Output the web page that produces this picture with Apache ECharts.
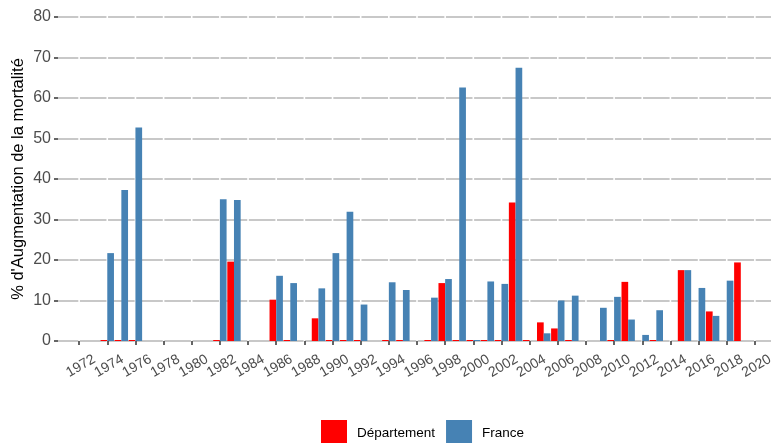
<!DOCTYPE html>
<html>
<head>
<meta charset="utf-8">
<script src="https://cdn.jsdelivr.net/npm/echarts@6/dist/echarts.min.js"></script>
<style>
  html, body { margin: 0; padding: 0; background: #fff; }
  #chart { width: 771px; height: 443px; }
</style>
</head>
<body>
<div id="chart"></div>
<script>
// years 1971..2021 (first and last are padding so the panel runs past 1972 / 2020)
var annees = ['1971', '1972', '1973', '1974', '1975', '1976', '1977', '1978', '1979', '1980',
    '1981', '1982', '1983', '1984', '1985', '1986', '1987', '1988', '1989', '1990',
    '1991', '1992', '1993', '1994', '1995', '1996', '1997', '1998', '1999', '2000',
    '2001', '2002', '2003', '2004', '2005', '2006', '2007', '2008', '2009', '2010',
    '2011', '2012', '2013', '2014', '2015', '2016', '2017', '2018', '2019', '2020', '2021'];

var departement = [null, null, null, 0.25, 0.25, 0.25, null, null, null, null,
    null, 0.25, 19.6, null, null, 10.2, 0.25, null, 5.6, 0.25,
    0.25, 0.25, null, 0.25, 0.25, null, 0.25, 14.3, 0.25, 0.25,
    0.25, 0.25, 34.2, 0.25, 4.6, 3.1, 0.25, null, null, 0.25,
    14.6, null, 0.25, null, 17.5, null, 7.3, null, 19.4, null, null];

var france = [null, null, null, 21.7, 37.3, 52.7, null, null, null, null,
    null, 35.0, 34.8, null, null, 16.1, 14.3, null, 13.0, 21.7,
    31.9, 9.0, null, 14.5, 12.6, null, 10.7, 15.3, 62.6, 0.25,
    14.7, 14.1, 67.5, null, 1.9, 10.0, 11.2, null, 8.2, 10.9,
    5.3, 1.5, 7.6, null, 17.5, 13.1, 6.2, 14.9, null, null, null];

var yTicks = { min: 0, max: 80, interval: 10 };

// only even years get a label / tick
function anneePaire(index, value) {
    return Number(value) % 2 === 0;
}

var chart = echarts.init(document.getElementById('chart'));

// horizontal grid lines are broken at every labelled year (ggplot white x-grid look)
var pas = 2 * (771 + 5 - 58) / annees.length;

var option = {
    animation: false,
    textStyle: { fontFamily: 'Liberation Sans, Arial, sans-serif' },
    grid: {
        left: 58,
        right: -5,
        top: 17,
        bottom: 102,
        containLabel: false,
        outerBoundsMode: 'none'
    },
    legend: {
        left: 321,
        top: 420,
        padding: 0,
        icon: 'rect',
        itemWidth: 26,
        itemHeight: 26,
        itemGap: 11,
        textStyle: { fontSize: 13.5, color: '#000', padding: [0, 0, 0, 5] },
        data: ['Département', 'France']
    },
    xAxis: {
        type: 'category',
        data: annees,
        offset: 15,
        axisLine: { show: false },
        axisTick: {
            show: true,
            alignWithLabel: true,
            interval: anneePaire,
            length: 4,
            lineStyle: { color: '#333', width: 1.5 }
        },
        axisLabel: {
            interval: anneePaire,
            rotate: 30,
            align: 'center',
            verticalAlign: 'middle',
            margin: 11,
            padding: [0, 0, 0, 4],
            fontSize: 14,
            color: '#4d4d4d'
        },
        splitLine: { show: false }
    },
    yAxis: {
        type: 'value',
        min: yTicks.min,
        max: yTicks.max,
        interval: yTicks.interval,
        name: "% d'Augmentation de la mortalité",
        nameLocation: 'middle',
        nameRotate: 90,
        nameGap: 31,
        nameMoveOverlap: false,
        nameTextStyle: { fontSize: 16.5, color: '#000' },
        axisLine: { show: false },
        axisTick: { show: true, length: 4, lineStyle: { color: '#333', width: 1.5 } },
        axisLabel: { fontSize: 16, color: '#4d4d4d', margin: 7 },
        splitLine: {
            show: true,
            lineStyle: {
                color: '#c8c8c8',
                width: 1.8,
                type: [pas - 1.6, 1.6],
                dashOffset: pas - 1.6 - (pas * 0.75 - 0.8)
            }
        }
    },
    series: [{
        name: 'Département',
        type: 'bar',
        data: departement,
        barGap: '0%',
        barCategoryGap: '5%',
        itemStyle: { color: '#ff0000' }
    }, {
        name: 'France',
        type: 'bar',
        data: france,
        barGap: '0%',
        barCategoryGap: '5%',
        itemStyle: { color: '#4682b4' }
    }]
};

chart.setOption(option);
window.addEventListener('resize', chart.resize);
</script>
</body>
</html>
